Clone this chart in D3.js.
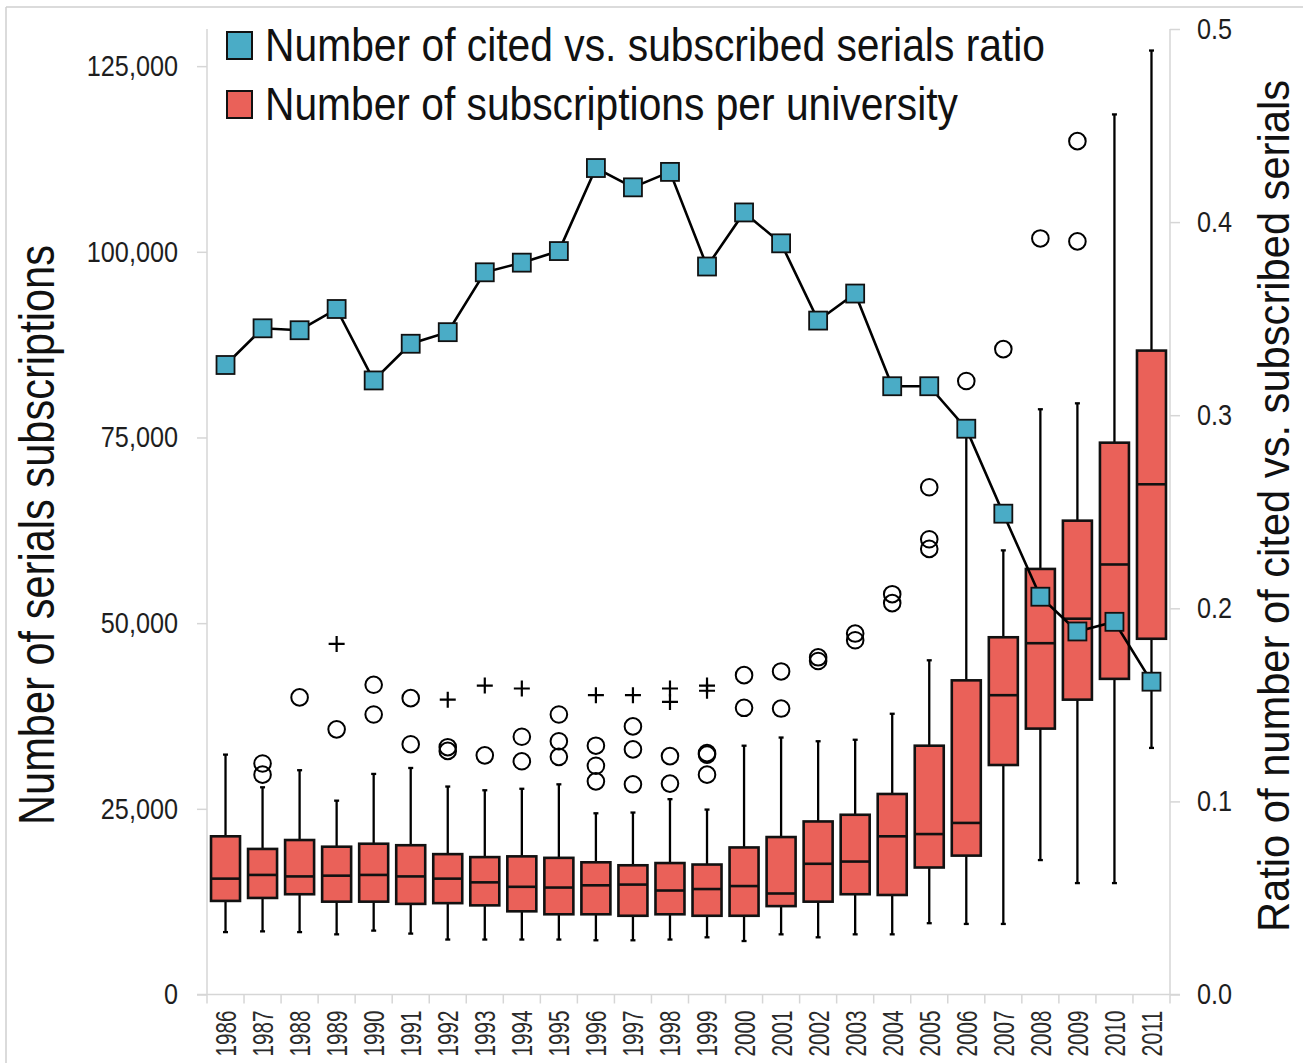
<!DOCTYPE html>
<html>
<head>
<meta charset="utf-8">
<script src="https://cdn.jsdelivr.net/npm/d3@7/dist/d3.min.js"></script>
<style>
  html, body { margin: 0; padding: 0; background: #fff; }
  svg { display: block; font-family: "Liberation Sans", Arial, sans-serif; }
</style>
</head>
<body>
<svg id="chart" width="1303" height="1063"></svg>
<script>
// ---------------- DATA ----------------
const years = ["1986","1987","1988","1989","1990","1991","1992","1993","1994","1995","1996","1997","1998","1999","2000","2001","2002","2003","2004","2005","2006","2007","2008","2009","2010","2011"];

const whiskerHigh = [32300, 27900, 30200, 26100, 29700, 30500, 28000, 27500, 27700, 28300, 24400, 24500, 26300, 24900, 33500, 34600, 34100, 34300, 37800, 45000, 75900, 59800, 78800, 79600, 118500, 127100];
const q3Values    = [21300, 19600, 20800, 19900, 20300, 20100, 18900, 18500, 18600, 18400, 17800, 17400, 17700, 17500, 19800, 21200, 23300, 24200, 27000, 33500, 42300, 48100, 57300, 63800, 74300, 86700];
const medianValues= [15600, 16100, 15900, 16000, 16100, 15900, 15600, 15100, 14500, 14400, 14700, 14800, 14000, 14200, 14600, 13600, 17600, 17900, 21300, 21600, 23100, 40300, 47300, 50600, 57900, 68700];
const q1Values    = [12600, 13000, 13500, 12500, 12500, 12200, 12300, 12000, 11200, 10800, 10800, 10600, 10800, 10600, 10600, 11900, 12500, 13500, 13400, 17100, 18700, 30900, 35800, 39700, 42500, 47900];
const whiskerLow  = [8400, 8500, 8400, 8100, 8600, 8200, 7400, 7400, 7400, 7400, 7300, 7300, 7400, 7700, 7200, 8100, 7700, 8100, 8100, 9600, 9500, 9500, 18100, 15000, 15000, 33200];

// outliers (circles) and extreme outliers (plus signs), per year
const outlierCircles = [
  [], [31100, 29600], [40000], [35700], [41700, 37700], [39900, 33700], [33300, 32800], [32200],
  [34700, 31400], [37700, 34100, 32000], [33500, 30800, 28700], [36100, 33000, 28300], [32100, 28400],
  [32500, 32300, 29600], [43000, 38600], [43500, 38500], [45400, 44900], [48600, 47700], [53900, 52700],
  [68300, 61300, 60000], [82600], [86900], [101800], [114900, 101400], [], []
];
const outlierPlus = [
  [], [], [], [47200], [], [], [39700], [41600], [41200], [], [40300], [40300], [41200, 39400], [41600, 40900],
  [], [], [], [], [], [], [], [], [], [], [], []
];

const ratioValues = [0.326, 0.345, 0.344, 0.355, 0.318, 0.337, 0.343, 0.374, 0.379, 0.385, 0.428, 0.418, 0.426, 0.377, 0.405, 0.389, 0.349, 0.363, 0.315, 0.315, 0.293, 0.249, 0.206, 0.188, 0.193, 0.162];

const leftTicks = [0, 25000, 50000, 75000, 100000, 125000];
const rightTicks = [0, 0.1, 0.2, 0.3, 0.4, 0.5];

const legendLabels = ["Number of cited vs. subscribed serials ratio", "Number of subscriptions per university"];
const leftTitle = "Number of serials subscriptions";
const rightTitle = "Ratio of number of cited vs. subscribed serials";

// ---------------- LAYOUT ----------------
const svg = d3.select("#chart");
const X0 = 207, X1 = 1170, YB = 994.5, YT = 29;
const boxFill = "#EA6159", blueFill = "#4AACC6", axisGray = "#d6d6d6", textCol = "#1e1e1e";

const x = d3.scaleBand().domain(years).range([X0, X1]).paddingInner(0).paddingOuter(0);
const yL = d3.scaleLinear().domain([0, 130000]).range([YB, YT]);
const yR = d3.scaleLinear().domain([0, 0.5]).range([YB, YT]);

function condense(sel, f) {
  sel.each(function () {
    const w = this.getComputedTextLength();
    this.setAttribute("textLength", (w * f).toFixed(1));
    this.setAttribute("lengthAdjust", "spacingAndGlyphs");
  });
}

// outer frame (light border)
svg.append("line").attr("x1", 6).attr("x2", 1303).attr("y1", 7).attr("y2", 7).attr("stroke", "#cfcfcf").attr("stroke-width", 1.5);
svg.append("line").attr("x1", 6).attr("x2", 6).attr("y1", 7).attr("y2", 1063).attr("stroke", "#cfcfcf").attr("stroke-width", 1.5);

// ---------------- AXES ----------------
const fmt = d3.format(",");
const gL = svg.append("g").attr("transform", `translate(${X0},0)`)
  .call(d3.axisLeft(yL).tickValues(leftTicks).tickFormat(fmt).tickSize(10).tickPadding(19));
const gR = svg.append("g").attr("transform", `translate(${X1},0)`)
  .call(d3.axisRight(yR).tickValues(rightTicks).tickFormat(d3.format(".1f")).tickSize(10).tickPadding(17));
const gX = svg.append("g").attr("transform", `translate(0,${YB})`)
  .call(d3.axisBottom(x).tickSize(0).tickFormat(""));

[gL, gR, gX].forEach(g => {
  g.select(".domain").attr("stroke", axisGray).attr("stroke-width", 1.5);
  g.selectAll(".tick line").attr("stroke", axisGray).attr("stroke-width", 1.5);
});
gL.select(".domain").attr("d", `M0,${YT}V${YB}`);
gR.select(".domain").attr("d", `M0,${YT}V${YB}`);
gX.select(".domain").attr("d", `M${X0 - 10},0H${X1 + 10}`);

gL.selectAll(".tick text").attr("font-size", 29).attr("fill", textCol).attr("font-family", "Liberation Sans, Arial, sans-serif");
gR.selectAll(".tick text").attr("font-size", 29).attr("fill", textCol).attr("font-family", "Liberation Sans, Arial, sans-serif");
condense(gL.selectAll(".tick text"), 0.87);
condense(gR.selectAll(".tick text"), 0.87);

// category separators on x axis
const sepPositions = years.map(d => x(d)).concat([X1]);
svg.append("g").selectAll("line").data(sepPositions).join("line")
  .attr("x1", d => d).attr("x2", d => d).attr("y1", YB).attr("y2", YB + 9)
  .attr("stroke", axisGray).attr("stroke-width", 1.5);

// year labels
svg.append("g").selectAll("text").data(years).join("text")
  .attr("transform", d => `translate(${x(d) + x.bandwidth() / 2},${YB + 16}) rotate(-90)`)
  .attr("text-anchor", "end").attr("dy", "0.36em")
  .attr("font-size", 29).attr("fill", "#2a2a2a")
  .attr("textLength", 46).attr("lengthAdjust", "spacingAndGlyphs")
  .text(d => d);

// axis titles
svg.append("text").attr("transform", `translate(54,535) rotate(-90)`)
  .attr("text-anchor", "middle").attr("font-size", 50).attr("fill", "#111")
  .attr("textLength", 580).attr("lengthAdjust", "spacingAndGlyphs")
  .text(leftTitle);
svg.append("text").attr("transform", `translate(1289,506) rotate(-90)`)
  .attr("text-anchor", "middle").attr("font-size", 45).attr("fill", "#111")
  .attr("textLength", 852).attr("lengthAdjust", "spacingAndGlyphs")
  .text(rightTitle);

// ---------------- BOXPLOTS ----------------
const boxW = 29;
const boxes = svg.append("g").selectAll("g").data(years).join("g")
  .attr("transform", d => `translate(${x(d) + x.bandwidth() / 2},0)`);

boxes.each(function (d, i) {
  const g = d3.select(this);
  // upper whisker
  g.append("line").attr("x1", 0).attr("x2", 0).attr("y1", yL(q3Values[i])).attr("y2", yL(whiskerHigh[i]))
    .attr("stroke", "#000").attr("stroke-width", 2.3);
  g.append("line").attr("x1", -2.5).attr("x2", 2.5).attr("y1", yL(whiskerHigh[i])).attr("y2", yL(whiskerHigh[i]))
    .attr("stroke", "#000").attr("stroke-width", 2.3);
  // lower whisker
  g.append("line").attr("x1", 0).attr("x2", 0).attr("y1", yL(q1Values[i])).attr("y2", yL(whiskerLow[i]))
    .attr("stroke", "#000").attr("stroke-width", 2.3);
  g.append("line").attr("x1", -2.5).attr("x2", 2.5).attr("y1", yL(whiskerLow[i])).attr("y2", yL(whiskerLow[i]))
    .attr("stroke", "#000").attr("stroke-width", 2.3);
  // box
  g.append("rect").attr("x", -boxW / 2).attr("width", boxW)
    .attr("y", yL(q3Values[i])).attr("height", yL(q1Values[i]) - yL(q3Values[i]))
    .attr("fill", boxFill).attr("stroke", "#111").attr("stroke-width", 2.6);
  // median
  g.append("line").attr("x1", -boxW / 2).attr("x2", boxW / 2)
    .attr("y1", yL(medianValues[i])).attr("y2", yL(medianValues[i]))
    .attr("stroke", "#111").attr("stroke-width", 2.6);
  // circles
  g.selectAll("circle.o").data(outlierCircles[i]).join("circle").attr("class", "o")
    .attr("cx", 0).attr("cy", v => yL(v)).attr("r", 8.3)
    .attr("fill", "none").attr("stroke", "#000").attr("stroke-width", 2);
  // plus signs
  g.selectAll("path.p").data(outlierPlus[i]).join("path").attr("class", "p")
    .attr("d", v => `M-8,${yL(v)}H8M0,${yL(v) - 8}V${yL(v) + 8}`)
    .attr("stroke", "#000").attr("stroke-width", 2.2).attr("fill", "none");
});

// ---------------- RATIO LINE ----------------
const line = d3.line().x((d, i) => x(years[i]) + x.bandwidth() / 2).y(d => yR(d));
svg.append("path").datum(ratioValues).attr("d", line)
  .attr("fill", "none").attr("stroke", "#000").attr("stroke-width", 2.6);
const sq = 18;
svg.append("g").selectAll("rect").data(ratioValues).join("rect")
  .attr("x", (d, i) => x(years[i]) + x.bandwidth() / 2 - sq / 2)
  .attr("y", d => yR(d) - sq / 2)
  .attr("width", sq).attr("height", sq)
  .attr("fill", blueFill).attr("stroke", "#111").attr("stroke-width", 1.8);

// ---------------- LEGEND ----------------
const legendColors = [blueFill, boxFill];
const legendY = [32, 91];
const legendLen = [780, 693];
const leg = svg.append("g");
legendLabels.forEach((lab, i) => {
  leg.append("rect").attr("x", 227).attr("y", legendY[i]).attr("width", 25).attr("height", 27)
    .attr("fill", legendColors[i]).attr("stroke", "#111").attr("stroke-width", 2);
  leg.append("text").attr("x", 265).attr("y", legendY[i] + 29)
    .attr("font-size", 46).attr("fill", "#111")
    .attr("textLength", legendLen[i]).attr("lengthAdjust", "spacingAndGlyphs")
    .text(lab);
});
</script>
</body>
</html>
